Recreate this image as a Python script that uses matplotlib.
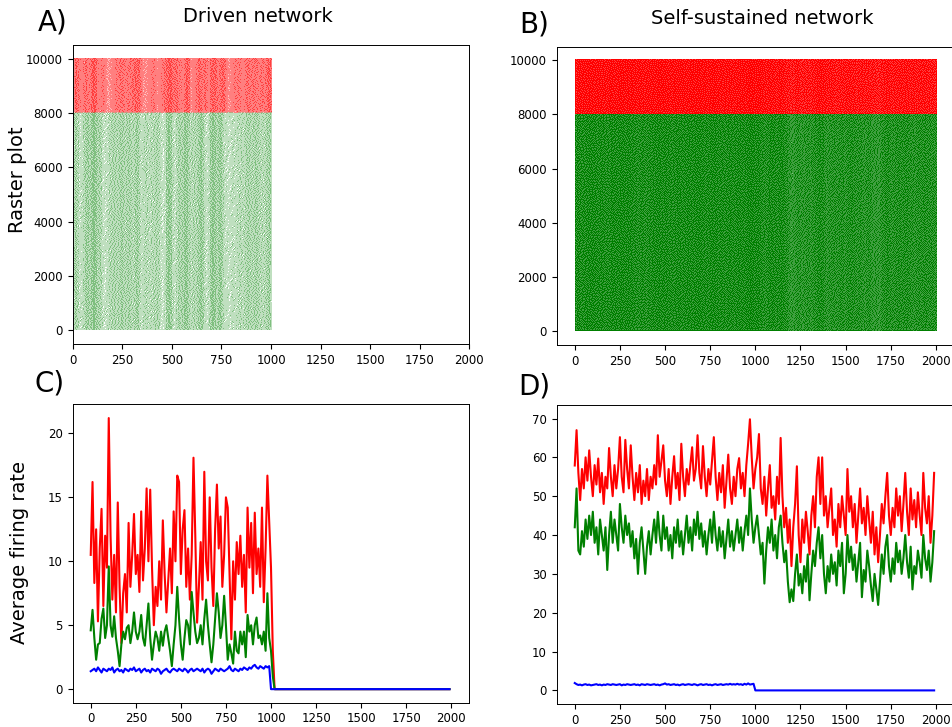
import numpy as np
import matplotlib.pyplot as plt

# time axis of the rate traces (ms), 10 ms bins
t_bins = np.arange(0, 2000, 10)

# ---------------- driven network (panel C), 0-990 ms; silent afterwards ----------------
driven_inh = [10.5, 16.2, 8.3, 12.5, 5.3, 11.0, 14.1, 6.5, 12.0, 9.5,
              21.2, 12.0, 7.0, 10.5, 6.0, 14.6, 8.0, 3.6, 7.5, 9.0,
              6.0, 13.0, 8.0, 10.5, 13.7, 9.0, 10.5, 7.6, 13.9, 8.5,
              11.0, 15.7, 10.0, 15.6, 9.5, 5.0, 8.0, 6.5, 10.0, 7.0,
              13.2, 9.0, 6.0, 8.5, 11.0, 7.5, 13.9, 10.0, 16.7, 16.2,
              9.0, 12.5, 14.0, 8.0, 11.0, 7.0, 10.5, 18.1, 12.0, 5.2,
              8.0, 11.5, 7.0, 17.0, 10.0, 8.5, 15.0, 9.5, 6.5, 12.5,
              16.0, 11.0, 13.5, 8.0, 10.5, 15.0, 14.2, 9.0, 3.9, 10.0,
              7.0, 11.5, 9.0, 12.0, 8.0, 10.5, 6.0, 14.2, 9.5, 13.0,
              7.5, 13.8, 9.0, 11.0, 8.0, 14.2, 6.8, 11.0, 16.7, 13.0,
              9.5, 3.0] + [0.0] * 98
driven_exc = [4.6, 6.2, 4.0, 2.3, 3.5, 3.6, 5.5, 6.3, 4.0, 5.0,
              9.6, 5.0, 4.1, 5.7, 4.0, 3.0, 1.8, 3.5, 4.5, 3.9,
              4.8, 5.0, 3.6, 4.5, 6.0, 4.5, 3.9, 4.5, 5.8, 4.0,
              3.4, 5.0, 6.7, 4.0, 2.3, 3.5, 4.5, 4.0, 3.0, 4.5,
              3.4, 4.5, 5.0, 4.0, 3.0, 1.8, 3.5, 5.0, 8.0, 5.5,
              3.5, 2.3, 4.0, 5.4, 5.0, 3.5, 7.6, 6.0, 4.5, 3.6,
              4.0, 5.0, 3.5, 5.5, 7.0, 5.0, 3.5, 2.1, 3.5, 5.5,
              7.5, 6.0, 4.0, 5.0, 7.3, 5.0, 2.3, 3.5, 2.8, 2.0,
              4.5, 3.0, 2.8, 4.5, 3.5, 4.5, 2.5, 5.8, 4.5, 5.0,
              3.5, 5.0, 5.6, 4.0, 4.2, 3.5, 4.5, 3.0, 7.5, 4.0,
              3.0, 1.0] + [0.0] * 98
driven_ext = [1.4, 1.5, 1.6, 1.4, 1.7, 1.5, 1.3, 1.6, 1.5, 1.4,
              1.6, 1.5, 1.7, 1.3, 1.5, 1.6, 1.4, 1.5, 1.3, 1.6,
              1.5, 1.4, 1.6, 1.5, 1.7, 1.4, 1.5, 1.6, 1.3, 1.5,
              1.6, 1.4, 1.5, 1.3, 1.6, 1.5, 1.4, 1.6, 1.5, 1.2,
              1.4, 1.5, 1.6, 1.4, 1.3, 1.5, 1.6, 1.5, 1.4, 1.6,
              1.5, 1.4, 1.6, 1.5, 1.3, 1.5, 1.6, 1.4, 1.5, 1.6,
              1.5, 1.4, 1.6, 1.3, 1.5, 1.6, 1.5, 1.2, 1.4, 1.6,
              1.5, 1.4, 1.6, 1.5, 1.4, 1.5, 1.6, 1.8, 1.5, 1.4,
              1.6, 1.5, 1.4, 1.6, 1.5, 1.7, 1.6, 1.5, 1.7, 1.6,
              1.8, 1.9, 1.7, 1.6, 1.8, 1.7, 1.6, 1.8, 1.7, 1.8] + [0.0] * 100

# ---------------- self-sustained network (panel D) ----------------
self_inh = [57.9, 67.0, 56.0, 49.0, 57.0, 52.0, 60.0, 54.0, 61.8, 55.0,
            50.0, 58.0, 53.0, 59.7, 51.0, 56.0, 48.0, 55.0, 52.0, 62.4,
            55.0, 50.0, 58.0, 52.0, 57.0, 65.2, 55.0, 51.0, 64.5, 57.0,
            52.0, 63.1, 55.0, 49.0, 56.0, 51.0, 58.0, 48.0, 54.0, 50.0,
            57.0, 49.0, 55.0, 52.0, 58.0, 53.0, 65.7, 55.0, 59.0, 63.1,
            54.0, 50.0, 57.0, 48.0, 55.0, 60.3, 52.0, 56.0, 49.0, 63.5,
            55.0, 50.0, 57.0, 53.0, 58.0, 62.6, 54.0, 57.0, 65.7, 56.0,
            52.0, 62.9, 55.0, 50.0, 57.0, 53.0, 59.0, 65.2, 55.0, 49.0,
            56.0, 51.0, 58.0, 47.0, 54.0, 60.7, 52.0, 48.0, 55.0, 50.0,
            57.0, 59.8, 52.0, 56.0, 50.0, 58.0, 63.5, 69.8, 60.0, 52.0,
            57.0, 60.0, 66.0, 52.0, 48.0, 55.0, 45.0, 52.0, 58.0, 47.0,
            50.0, 44.0, 55.0, 48.0, 65.0, 50.0, 42.0, 47.0, 38.0, 44.0,
            32.0, 42.0, 48.0, 57.7, 40.0, 33.0, 44.0, 38.0, 46.0, 41.0,
            35.0, 45.0, 50.0, 42.0, 55.0, 60.0, 48.0, 60.0, 45.0, 50.0,
            42.0, 47.0, 52.0, 40.0, 44.0, 37.0, 48.0, 42.0, 50.0, 45.0,
            40.0, 57.0, 46.0, 50.0, 42.0, 48.0, 38.0, 45.0, 52.0, 43.0,
            47.0, 40.0, 50.0, 44.0, 38.0, 46.0, 35.0, 42.0, 33.0, 40.0,
            48.0, 43.0, 50.0, 56.0, 45.0, 40.0, 47.0, 42.0, 52.0, 45.0,
            50.0, 41.0, 48.0, 56.0, 46.0, 40.0, 52.0, 44.0, 49.0, 42.0,
            51.0, 45.0, 40.0, 56.0, 47.0, 43.0, 50.0, 38.0, 45.0, 56.0]
self_exc = [42.0, 52.0, 36.0, 35.0, 41.0, 37.0, 44.0, 39.0, 45.0, 40.0,
            46.0, 38.0, 42.0, 35.0, 44.0, 40.0, 36.0, 42.0, 31.0, 40.0,
            46.0, 38.0, 44.0, 40.0, 36.0, 48.0, 42.0, 38.0, 45.0, 40.0,
            43.0, 37.0, 41.0, 34.0, 39.0, 30.0, 38.0, 42.0, 36.0, 30.0,
            37.0, 41.0, 35.0, 40.0, 44.0, 38.0, 46.0, 40.0, 36.0, 45.0,
            39.0, 42.0, 36.0, 40.0, 34.0, 42.0, 38.0, 44.0, 37.0, 41.0,
            35.0, 40.0, 45.0, 38.0, 42.0, 36.0, 44.0, 40.0, 46.0, 39.0,
            43.0, 37.0, 41.0, 35.0, 40.0, 44.0, 38.0, 46.0, 40.0, 36.0,
            42.0, 37.0, 41.0, 34.0, 39.0, 44.0, 37.0, 41.0, 36.0, 40.0,
            44.0, 38.0, 42.0, 36.0, 41.0, 45.0, 40.0, 52.0, 44.0, 38.0,
            42.0, 45.0, 40.0, 35.0, 38.0, 27.5, 36.0, 42.0, 38.0, 44.0,
            36.0, 40.0, 34.0, 42.0, 45.0, 38.0, 33.0, 36.0, 28.0, 22.7,
            26.0, 23.0, 30.0, 35.0, 27.0, 30.0, 25.0, 32.0, 28.0, 35.0,
            23.2, 30.0, 36.0, 32.0, 38.0, 42.0, 34.0, 40.0, 30.0, 25.0,
            32.0, 28.0, 35.0, 30.0, 33.0, 27.0, 36.0, 32.0, 38.0, 25.0,
            30.0, 40.0, 33.0, 37.0, 31.0, 35.0, 28.0, 33.0, 38.0, 24.0,
            31.0, 28.0, 36.0, 32.0, 27.0, 23.0, 30.0, 26.0, 22.0, 28.0,
            35.0, 30.0, 37.0, 40.0, 32.0, 28.0, 34.0, 30.0, 38.0, 33.0,
            36.0, 30.0, 34.0, 40.0, 33.0, 29.0, 37.0, 26.0, 32.0, 30.0,
            36.0, 33.0, 29.0, 40.0, 34.0, 31.0, 36.0, 28.0, 33.0, 41.0]
self_ext = [1.9, 1.6, 1.4, 1.5, 1.3, 1.5, 1.6, 1.4, 1.5, 1.3,
            1.4, 1.5, 1.6, 1.4, 1.5, 1.3, 1.5, 1.4, 1.6, 1.5,
            1.4, 1.6, 1.5, 1.4, 1.5, 1.6, 1.3, 1.5, 1.4, 1.6,
            1.5, 1.4, 1.5, 1.6, 1.4, 1.5, 1.3, 1.6, 1.5, 1.4,
            1.6, 1.5, 1.4, 1.5, 1.6, 1.4, 1.5, 1.3, 1.5, 1.6,
            1.8, 1.5, 1.6, 1.4, 1.5, 1.6, 1.4, 1.5, 1.3, 1.5,
            1.6, 1.4, 1.5, 1.6, 1.5, 1.4, 1.6, 1.5, 1.3, 1.5,
            1.6, 1.4, 1.5, 1.6, 1.4, 1.5, 1.3, 1.5, 1.6, 1.4,
            1.5, 1.6, 1.4, 1.5, 1.6, 1.5, 1.7, 1.5, 1.6, 1.5,
            1.7, 1.5, 1.6, 1.4, 1.7, 1.5, 1.8, 1.5, 1.6, 1.7] + [0.0] * 100

N_EXC = 8000
N_TOTAL = 10000
GREEN = np.array([0.0, 0.5, 0.0])
RED = np.array([1.0, 0.0, 0.0])
SUB = 2  # dither cells per screen pixel (each direction)


def error_diffusion(level):
    # serpentine Floyd-Steinberg: grey level -> dots
    h, w = level.shape
    rows = level.tolist()
    out = np.zeros((h, w), bool)
    for y in range(h):
        cur = rows[y]
        nxt = rows[y + 1] if y + 1 < h else None
        flags = [False] * w
        if y % 2 == 0:
            xs, d = range(w), 1
        else:
            xs, d = range(w - 1, -1, -1), -1
        for x in xs:
            v = cur[x]
            if v >= 0.5:
                flags[x] = True
                e = v - 1.0
            else:
                e = v
            xn = x + d
            inside = 0 <= xn < w
            if inside:
                cur[xn] += e * 0.4375
            if nxt is not None:
                nxt[x] += e * 0.3125
                xp = x - d
                if 0 <= xp < w:
                    nxt[xp] += e * 0.1875
                if inside:
                    nxt[xn] += e * 0.0625
        out[y] = flags
    return out


def raster_image(exc, inh, t_end, ms_per_px, cells_per_px):
    """Dot raster whose local density follows the population rates."""
    ncol = int(np.ceil(t_end / ms_per_px))
    nrow = int(np.ceil(N_TOTAL / cells_per_px))
    ms_sub = ms_per_px / SUB
    cells_sub = cells_per_px / SUB
    t_mid = (np.arange(ncol * SUB) + 0.5) * ms_sub
    b = np.minimum((t_mid // 10).astype(int), len(t_bins) - 1)
    kern = [0.25, 0.5, 0.25]
    exc_s = np.convolve(exc, kern, mode='same')
    inh_s = np.convolve(inh, kern, mode='same')
    id_mid = (np.arange(nrow * SUB) + 0.5) * cells_sub
    is_exc = id_mid < N_EXC
    rate = np.where(is_exc[:, None], exc_s[b][None, :], inh_s[b][None, :])
    x = 2.1 * rate * cells_sub * ms_sub / 1000.0
    on = error_diffusion(1.0 - (1.0 + x / 2.0) ** -2)
    rgb = np.ones((nrow * SUB, ncol * SUB, 3))
    rgb[on & is_exc[:, None]] = GREEN
    rgb[on & ~is_exc[:, None]] = RED
    # average the sub-cells into screen pixels
    rgb = rgb.reshape(nrow, SUB, ncol, SUB, 3).mean(axis=(1, 3))
    extent = (0, ncol * ms_per_px, 0, nrow * cells_per_px)
    return rgb, extent


plt.rcParams['font.family'] = 'DejaVu Sans'
plt.rcParams['xtick.labelsize'] = 8.5
plt.rcParams['ytick.labelsize'] = 8.5
plt.rcParams['axes.linewidth'] = 0.7

W, H = 952, 727
fig = plt.figure(figsize=(W / 100, H / 100), dpi=100)


def box(x0, y0, x1, y1):
    return [x0 / W, 1 - y1 / H, (x1 - x0) / W, (y1 - y0) / H]


A_BOX = (72.7, 45, 469.3, 344)
B_BOX = (556.7, 46.7, 954, 345)
axA = fig.add_axes(box(*A_BOX))
axB = fig.add_axes(box(*B_BOX))
axC = fig.add_axes(box(72.7, 404, 469.3, 702.7))
axD = fig.add_axes(box(556.7, 405.3, 954, 704))

# ----------------- rasters -----------------
rasters = [(axA, A_BOX, (0, 2000), 1000, driven_exc, driven_inh),
           (axB, B_BOX, (-100, 2100), 2000, self_exc, self_inh)]
for ax, bx, xlim, t_end, exc, inh in rasters:
    ms_px = (xlim[1] - xlim[0]) / (bx[2] - bx[0])
    cells_px = 11000 / (bx[3] - bx[1])
    rgb, ext = raster_image(exc, inh, t_end, ms_px, cells_px)
    ax.imshow(rgb, extent=ext, origin='lower', aspect='auto', interpolation='nearest')
    ax.set_xlim(*xlim)
    ax.set_ylim(-500, 10500)
    ax.set_yticks([0, 2000, 4000, 6000, 8000, 10000])

for ax in (axA, axB, axC, axD):
    ax.set_xticks([0, 250, 500, 750, 1000, 1250, 1500, 1750, 2000])

# ----------------- firing rates -----------------
for ax, exc, inh, ext in [(axC, driven_exc, driven_inh, driven_ext),
                          (axD, self_exc, self_inh, self_ext)]:
    ax.plot(t_bins, inh, color='red', linewidth=1.5)
    ax.plot(t_bins, exc, color='green', linewidth=1.5)
    ax.plot(t_bins, ext, color='blue', linewidth=1.5)
    ax.set_xlim(-100, 2100)

axC.set_ylim(-1.06, 22.3)
axC.set_yticks([0, 5, 10, 15, 20])
axD.set_ylim(-3.5, 73.4)
axD.set_yticks([0, 10, 20, 30, 40, 50, 60, 70])

# ----------------- labels -----------------
fig.text(53 / W, 1 - 23 / H, 'A)', fontsize=20, ha='center', va='center')
fig.text(534 / W, 1 - 25 / H, 'B)', fontsize=20, ha='center', va='center')
fig.text(50 / W, 1 - 384 / H, 'C)', fontsize=20, ha='center', va='center')
fig.text(534 / W, 1 - 386 / H, 'D)', fontsize=20, ha='center', va='center')
fig.text(257.5 / W, 1 - 17 / H, 'Driven network', fontsize=14, ha='center', va='center')
fig.text(762 / W, 1 - 18 / H, 'Self-sustained network', fontsize=14, ha='center', va='center')
fig.text(18 / W, 1 - 180 / H, 'Raster plot', fontsize=14, rotation=90, ha='center', va='center')
fig.text(20 / W, 1 - 553 / H, 'Average firing rate', fontsize=14, rotation=90, ha='center', va='center')

fig.savefig('out.png', dpi=100)
